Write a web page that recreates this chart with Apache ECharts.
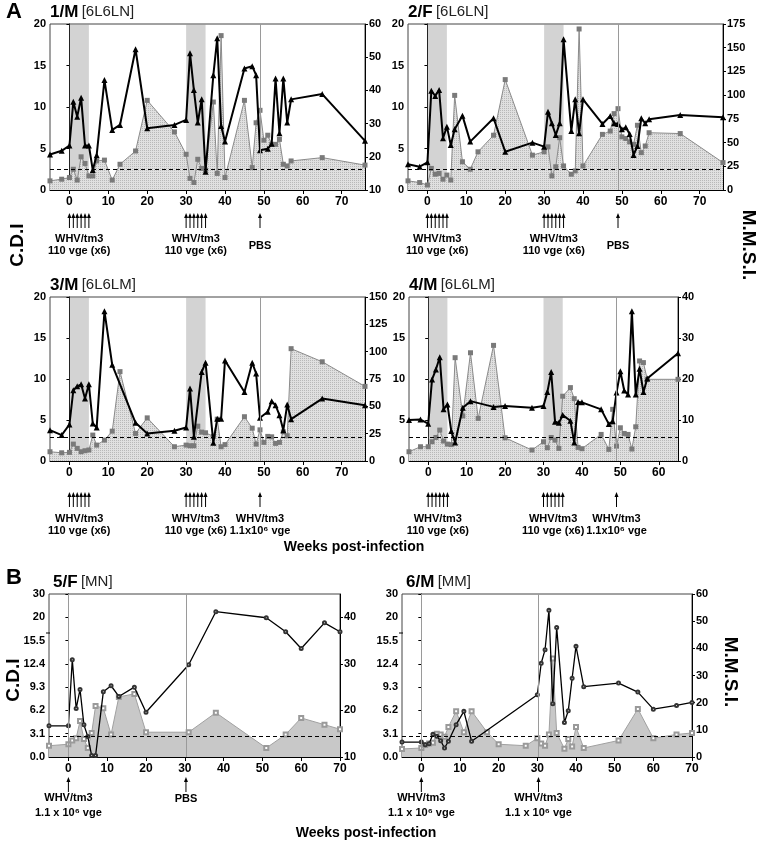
<!DOCTYPE html>
<html>
<head>
<meta charset="utf-8">
<script src="https://cdn.jsdelivr.net/npm/echarts@6/dist/echarts.min.js"></script>
<style>
  html, body { margin: 0; background: #fff; }
  #chart { width: 760px; height: 841px; }
</style>
</head>
<body>
<div id="chart"></div>
<script>
// ---- animal 1/M ----
const weeksCdi1 = [-5,-2,0,1,2,3,4,5,6,7,9,11,13,17,20,27,30,31,32,33,34,35,37,38,39,40,45,47,48,49,50,51,52,53,54,55,56,57,65,76]
const cdi1 = [1.1,1.3,1.5,2.5,1.2,4.0,3.2,1.7,1.7,3.5,3.6,1.2,3.1,4.7,10.8,7.0,4.3,1.4,0.9,3.7,2.6,2.4,10.6,2.0,18.6,1.5,10.8,2.7,8.1,9.6,6.0,6.6,5.5,5.5,6.1,3.1,2.9,3.5,3.9,3.0]
const weeksMmsi1 = [-5,-2,0,1,2,3,4,5,6,7,9,11,13,17,20,27,30,31,32,33,34,35,37,38,39,40,45,47,48,49,51,52,53,54,55,56,57,65,76]
const mmsi1 = [20.7,21.8,23.4,36.6,32.1,37.8,23.4,23.4,16.0,20.5,43.1,28.1,29.6,52.4,28.6,29.6,31.1,51.2,40.1,30.3,37.3,15.5,44.6,55.7,29.3,24.6,46.6,47.3,44.6,22.0,22.4,23.9,43.6,27.1,43.6,30.3,37.3,38.9,24.8]

// ---- animal 2/F ----
const weeksCdi2 = [-5,-2,0,1,2,3,4,5,6,7,9,11,13,17,20,27,30,31,32,33,34,35,37,38,39,40,45,47,48,49,50,51,52,53,54,55,56,57,65,76]
const cdi2 = [1.1,0.9,0.6,2.6,1.9,2.0,1.3,1.8,1.2,11.4,3.4,2.5,4.6,6.6,13.3,4.2,4.6,5.2,1.7,2.8,6.3,2.9,1.9,2.3,19.4,2.9,6.7,7.1,9.2,9.8,6.4,6.2,5.8,5.5,7.8,4.5,5.3,6.9,6.8,3.3]
const weeksMmsi2 = [-5,-2,0,1,2,3,4,5,6,7,9,11,17,20,27,30,31,32,33,34,35,37,38,39,40,45,47,48,49,50,51,52,53,54,55,56,57,65,76]
const mmsi2 = [27.1,24.6,29.2,104.7,99.1,105.4,54.5,66.8,47.4,64.0,78.4,51.0,75.6,40.4,49.9,45.7,82.6,70.3,58.0,70.3,158.8,62.2,95.6,59.7,95.6,69.6,78.0,70.3,69.6,64.0,66.1,59.0,36.9,46.4,75.6,70.3,74.5,79.1,76.6]

// ---- animal 3/M ----
const weeksCdi3 = [-5,-2,0,1,2,3,4,5,6,7,9,11,13,17,20,27,30,31,32,33,34,35,37,38,39,40,45,47,48,49,50,51,52,53,54,55,56,57,65,76]
const cdi3 = [1.13,1.0,1.05,2.06,1.54,1.13,1.25,1.34,3.16,1.94,2.55,3.64,10.9,3.36,5.26,1.74,1.94,1.86,1.86,4.25,3.52,3.44,3.0,5.1,1.74,2.0,5.4,4.0,2.06,3.8,2.27,3.0,2.95,2.15,2.27,3.56,3.08,13.7,12.1,9.1]
const weeksMmsi3 = [-5,-2,0,1,2,3,4,5,6,7,9,11,17,20,27,30,31,32,34,35,37,38,39,40,45,47,48,49,51,52,53,54,55,56,57,65,76]
const mmsi3 = [28.2,23.7,33.4,64.7,68.3,70.1,57.1,70.1,34.3,30.7,137,88.0,34.9,25.2,27.6,30.7,66.2,22.2,81.4,89.9,16.7,38.6,38.6,92.0,63.2,89.9,80.0,39.5,45.0,54.7,51.0,41.9,28.2,51.6,38.3,57.1,51.0]

// ---- animal 4/M ----
const weeksCdi4 = [-5,-2,0,1,2,3,4,5,6,7,9,11,13,17,20,27,30,31,32,33,34,35,37,38,39,40,45,47,48,49,50,51,52,53,54,55,56,57,65]
const cdi4 = [1.13,1.74,1.74,2.35,2.87,3.77,2.43,2.06,2.0,12.6,5.5,13.2,5.2,14.1,2.83,1.34,2.35,1.62,2.87,2.55,1.54,7.9,8.95,7.6,1.66,1.5,3.24,1.42,6.3,1.82,4.05,3.36,3.24,1.46,4.17,12.2,12.0,9.96,9.96]
const weeksMmsi4 = [-5,-2,0,1,2,3,4,5,6,7,9,11,17,20,27,30,31,32,33,34,35,37,38,39,40,45,47,48,49,50,51,52,53,54,55,56,57,65]
const mmsi4 = [10.0,10.1,9.1,19.9,22.3,25.3,12.6,13.8,7.3,4.5,13.0,14.6,13.2,13.4,13.0,13.4,16.8,21.7,9.6,9.3,11.2,9.8,4.5,14.4,14.3,12.6,9.0,9.7,16.7,21.9,17.2,16.2,36.5,16.2,22.5,16.8,20.1,26.3]

// ---- animal 5/F ----
const weeksCdi5 = [-5,0,1,2,3,4,5,6,7,9,11,13,17,20,31,38,51,56,60,66,70]
const cdi5 = [1.5,1.7,2.2,2.5,4.8,2.4,1.2,3.2,6.8,6.5,3.0,8.0,8.4,3.3,3.3,5.9,1.2,3.0,5.2,4.3,3.7]
const weeksMmsi5 = [-5,0,1,2,3,4,5,6,7,9,11,13,17,20,31,38,51,56,60,66,70]
const mmsi5 = [16.7,16.7,30.9,20.4,24.5,16.9,14.4,10.3,10.3,24.0,25.3,23.0,25.0,19.6,29.8,41.2,39.9,36.9,33.3,38.8,36.9]

// ---- animal 6/M ----
const weeksCdi6 = [-5,0,1,2,3,4,5,6,7,9,11,13,17,20,27,30,31,32,33,34,35,37,38,39,40,42,51,56,60,66,70]
const cdi6 = [1.07,1.2,1.6,1.8,1.9,3.1,3.0,2.7,4.0,6.1,3.3,6.1,3.3,1.7,1.5,2.5,1.8,1.5,3.0,13.1,3.2,1.1,2.4,1.4,4.0,1.2,2.2,6.4,2.5,3.0,3.2]
const weeksMmsi6 = [-5,0,1,2,3,4,5,6,7,9,11,13,30,31,32,33,34,35,37,38,39,40,42,51,56,60,66,70]
const mmsi6 = [5.5,5.5,4.5,4.9,8.4,7.6,6.0,3.3,5.8,11.9,16.8,5.8,22.9,34.5,39.5,54.0,19.6,47.7,12.7,17.0,29.0,40.8,25.9,27.2,23.9,17.6,19.0,20.1]

// tick labels
const weekTicksA = [0,10,20,30,40,50,60,70]
const weekTicks4 = [0,10,20,30,40,50,60]
const cdiTicksB = [0,3.1,6.2,9.3,12.4,15.5,18.6,21.7]

const FONT = '"Liberation Sans", Arial, sans-serif'

const panels = [
  {title: '1/M', tag: '[6L6LN]', grid: [50, 24, 315, 166], xMax: 76, xTicks: weekTicksA,
   wc: weeksCdi1, c: cdi1, wm: weeksMmsi1, m: mmsi1, r: [10, 60, 10], cut: 2.5, bands: true, vlines: [49]},
  {title: '2/F', tag: '[6L6LN]', grid: [408, 24, 315, 166], xMax: 76, xTicks: weekTicksA,
   wc: weeksCdi2, c: cdi2, wm: weeksMmsi2, m: mmsi2, r: [0, 175, 25], cut: 2.5, bands: true, vlines: [49]},
  {title: '3/M', tag: '[6L6LM]', grid: [50, 297, 315, 164], xMax: 76, xTicks: weekTicksA,
   wc: weeksCdi3, c: cdi3, wm: weeksMmsi3, m: mmsi3, r: [0, 150, 25], cut: 2.9, bands: true, vlines: [49]},
  {title: '4/M', tag: '[6L6LM]', grid: [409, 297, 269, 164], xMax: 65, xTicks: weekTicks4,
   wc: weeksCdi4, c: cdi4, wm: weeksMmsi4, m: mmsi4, r: [0, 40, 10], cut: 2.9, bands: true, vlines: [49]},
  {title: '5/F', tag: '[MN]', grid: [49, 594, 291, 163], xMax: 70, xTicks: weekTicksA,
   wc: weeksCdi5, c: cdi5, wm: weeksMmsi5, m: mmsi5, r: [10, 45, 10], cut: 2.8, bands: false, vlines: [0, 30.3]},
  {title: '6/M', tag: '[MM]', grid: [402, 594, 290, 163], xMax: 70, xTicks: weekTicksA,
   wc: weeksCdi6, c: cdi6, wm: weeksMmsi6, m: mmsi6, r: [0, 60, 10], cut: 2.8, bands: false, vlines: [0, 30.3]}
]

// fine stipple like the printed figure
function dotPattern() {
  const c = document.createElement('canvas')
  c.width = 2; c.height = 2
  const ctx = c.getContext('2d')
  ctx.fillStyle = '#e0e0e0'; ctx.fillRect(0, 0, 2, 2)
  ctx.fillStyle = '#b8b8b8'; ctx.fillRect(0, 0, 1, 1)
  return c
}
const pattern = {image: dotPattern(), repeat: 'repeat'}

const labelStyle = {color: '#000', fontWeight: 'bold', fontSize: 11, fontFamily: FONT}
const axisLine = {show: true, lineStyle: {color: '#000', width: 1}}

const grid = [], xAxis = [], yAxis = [], series = []
panels.forEach((p, i) => {
  const isB = i >= 4
  grid.push({left: p.grid[0], top: p.grid[1], width: p.grid[2], height: p.grid[3],
    show: true, borderColor: '#444', borderWidth: 1})
  xAxis.push({gridIndex: i, type: 'value', min: -5, max: p.xMax,
    axisLine: axisLine, splitLine: {show: false},
    axisTick: {length: 4, customValues: p.xTicks, lineStyle: {color: '#000'}},
    axisLabel: Object.assign({customValues: p.xTicks, margin: 6}, labelStyle, {fontSize: 12})})
  if (isB) {
    yAxis.push({gridIndex: i, type: 'value', position: 'left', min: 0, max: 21.7,
      axisLine: axisLine, splitLine: {show: false},
      axisTick: {length: 3, customValues: cdiTicksB},
      axisLabel: Object.assign({customValues: cdiTicksB, margin: 4,
        formatter: v => v > 20 ? '30' : v > 17 ? '20' : v.toFixed(1)}, labelStyle)})
  } else {
    yAxis.push({gridIndex: i, type: 'value', position: 'left', min: 0, max: 20, interval: 5,
      axisLine: axisLine, splitLine: {show: false},
      axisTick: {length: 3}, axisLabel: Object.assign({margin: 4}, labelStyle)})
  }
  const rTicks = []
  for (let v = p.r[0]; v <= p.r[1]; v += p.r[2]) rTicks.push(v)
  yAxis.push({gridIndex: i, type: 'value', position: 'right', min: p.r[0], max: p.r[1],
    axisLine: axisLine, splitLine: {show: false},
    axisTick: {length: 3, customValues: rTicks},
    axisLabel: Object.assign({customValues: rTicks, margin: 4}, labelStyle)})

  const markLineData = [{yAxis: p.cut, lineStyle: {type: [4, 3], color: '#000', width: 1}}]
  p.vlines.forEach(v => markLineData.push({xAxis: v, lineStyle: {type: 'solid', color: '#9a9a9a', width: 1}}))

  series.push({
    type: 'line', xAxisIndex: i, yAxisIndex: 2 * i, z: 2,
    data: p.wc.map((w, j) => [w, p.c[j]]),
    symbol: isB ? 'emptyRect' : 'rect', symbolSize: isB ? 4 : 5,
    itemStyle: {color: isB ? '#9a9a9a' : '#7a7a7a', borderWidth: 1},
    lineStyle: {color: isB ? '#a0a0a0' : '#8a8a8a', width: 1},
    areaStyle: {color: isB ? '#c8c8c8' : pattern, opacity: 1},
    markLine: {silent: true, symbol: 'none', label: {show: false}, data: markLineData},
    markArea: p.bands ? {silent: true, itemStyle: {color: 'rgba(150,150,150,0.42)'},
      data: [[{xAxis: 0}, {xAxis: 5}], [{xAxis: 30}, {xAxis: 35}]]} : undefined
  })
  series.push({
    type: 'line', xAxisIndex: i, yAxisIndex: 2 * i + 1, z: 3,
    data: p.wm.map((w, j) => [w, p.m[j]]),
    symbol: isB ? 'emptyCircle' : 'triangle', symbolSize: isB ? 3 : 6,
    itemStyle: {color: isB ? '#333' : '#000'},
    lineStyle: {color: '#000', width: isB ? 1.3 : 2}
  })
})

const chart = echarts.init(document.getElementById('chart'))
chart.setOption({animation: false, grid, xAxis, yAxis, series})

// annotations: titles, injection arrows, axis titles
const g = []
function text(x, y, str, font, extra) {
  g.push(Object.assign({type: 'text', x: x, y: y,
    style: {text: str, font: font, fill: '#000', textAlign: 'center', textVerticalAlign: 'middle'}}, extra || {}))
}
function arrow(x, y1, y2) {
  g.push({type: 'line', shape: {x1: x, y1: y1 + 4, x2: x, y2: y2}, style: {stroke: '#000', lineWidth: 1}})
  g.push({type: 'polygon', shape: {points: [[x, y1], [x - 2, y1 + 5], [x + 2, y1 + 5]]}, style: {fill: '#000'}})
}
function px(i, w) { return chart.convertToPixel({gridIndex: i}, [w, 0])[0] }

panels.forEach((p, i) => {
  const ty = p.grid[1] - 12
  g.push({type: 'text', x: p.grid[0] + (i >= 4 ? 4 : 0), y: ty,
    style: {text: '{b|' + p.title + '} {n|' + p.tag + '}', fill: '#000', textVerticalAlign: 'middle',
      rich: {b: {font: 'bold 17px ' + FONT}, n: {font: '15px ' + FONT, fill: '#222'}}}})
})

// small break mark on the C.D.I axis of panel B
;[4, 5].forEach(i => {
  const x = panels[i].grid[0]
  g.push({type: 'line', shape: {x1: x - 3, y1: 633, x2: x + 1, y2: 633}, style: {stroke: '#000', lineWidth: 1}})
})

const rowA = [[0, 1, 213, 228, 239, 251], [2, 3, 492, 507, 519, 531]]
rowA.forEach(([a, b, y1, y2, t1, t2], r) => {
  [a, b].forEach(i => {
    for (let w = 0; w <= 5; w++) arrow(px(i, w), y1, y2)
    for (let w = 30; w <= 35; w++) arrow(px(i, w), y1, y2)
    arrow(px(i, 49), y1, y2)
    ;[2.5, 32.5].forEach(w => {
      text(px(i, w), t1, 'WHV/tm3', 'bold 11px ' + FONT)
      text(px(i, w), t2, '110 vge (x6)', 'bold 11px ' + FONT)
    })
    if (r === 0) {
      text(px(i, 49), (t1 + t2) / 2 + 1, 'PBS', 'bold 11px ' + FONT)
    } else {
      text(px(i, 49), t1, 'WHV/tm3', 'bold 11px ' + FONT)
      text(px(i, 49), t2, '1.1x10\u2076 vge', 'bold 11px ' + FONT)
    }
  })
})

;[4, 5].forEach(i => {
  arrow(px(i, 0), 777, 792)
  arrow(px(i, 30.3), 777, 792)
  text(px(i, 0), 798, 'WHV/tm3', 'bold 11px ' + FONT)
  text(px(i, 0), 813, '1.1 x 10\u2076 vge', 'bold 11px ' + FONT)
  if (i === 4) {
    text(px(i, 30.3), 799, 'PBS', 'bold 11px ' + FONT)
  } else {
    text(px(i, 30.3), 798, 'WHV/tm3', 'bold 11px ' + FONT)
    text(px(i, 30.3), 813, '1.1 x 10\u2076 vge', 'bold 11px ' + FONT)
  }
})

text(14, 12, 'A', 'bold 22px ' + FONT)
text(14, 578, 'B', 'bold 22px ' + FONT)
text(18, 245, 'C.D.I', 'bold 19px ' + FONT, {rotation: Math.PI / 2})
text(14, 680, 'C.D.I', 'bold 19px ' + FONT, {rotation: Math.PI / 2})
text(748, 245, 'M.M.S.I.', 'bold 19px ' + FONT, {rotation: -Math.PI / 2})
text(730, 672, 'M.M.S.I.', 'bold 19px ' + FONT, {rotation: -Math.PI / 2})
text(354, 547, 'Weeks post-infection', 'bold 14px ' + FONT)
text(366, 833, 'Weeks post-infection', 'bold 14px ' + FONT)

chart.setOption({graphic: {elements: g}})
</script>
</body>
</html>
